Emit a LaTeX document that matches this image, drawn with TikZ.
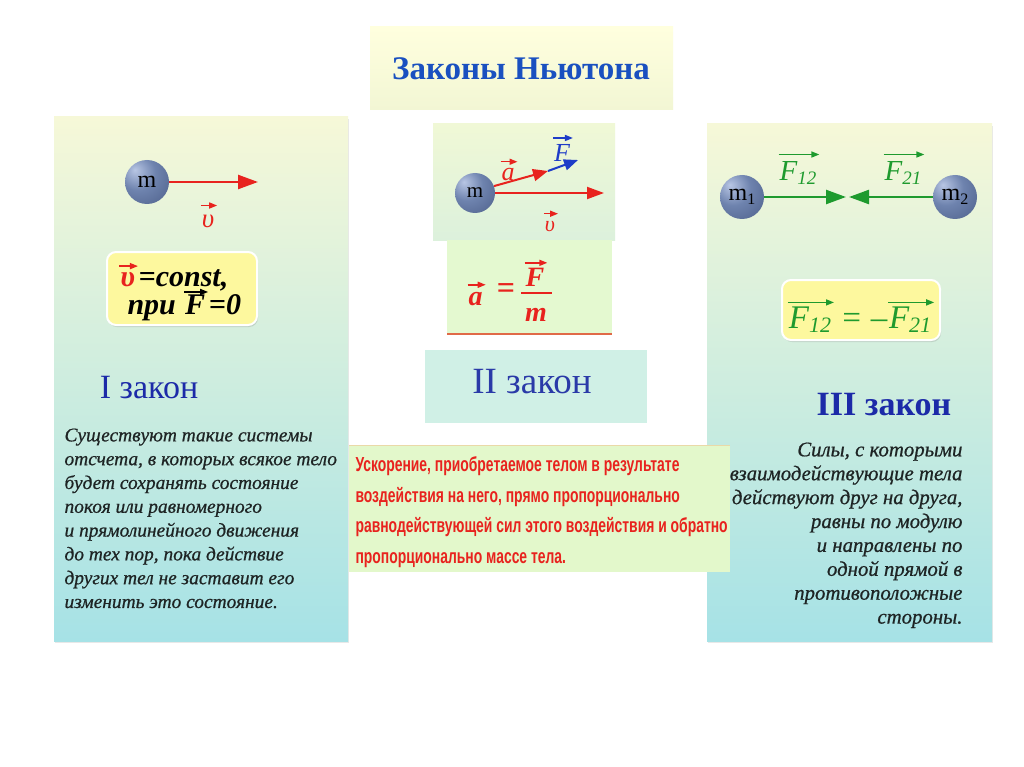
\documentclass[tikz,border=0pt]{standalone}
\usepackage{amsmath}
\usepackage{fontspec}
\setmainfont{Liberation Serif}
\newfontfamily\condsans[FakeStretch=0.685]{Liberation Sans}
\newfontfamily\descfont[FakeBold=0.7]{Liberation Serif}
\usetikzlibrary{arrows.meta,shadows}
\definecolor{titleblue}{HTML}{1A50C0}
\definecolor{lawblue}{HTML}{1C2AA8}
\definecolor{lawblueB}{HTML}{2A3AA8}
\definecolor{descgray}{HTML}{1E2424}
\definecolor{vred}{HTML}{E8231E}
\definecolor{fblue}{HTML}{1E3CC8}
\definecolor{fgreen}{HTML}{1E9A2E}
\definecolor{panelTop}{HTML}{F6F8D8}
\definecolor{panelBot}{HTML}{A6E2E6}
\definecolor{titleTop}{HTML}{FFFFDE}
\definecolor{titleBot}{HTML}{F2F6D4}
\definecolor{midTop}{HTML}{F0F8D6}
\definecolor{midBot}{HTML}{DCF1DC}
\definecolor{formline}{HTML}{E06A48}
\definecolor{redboxline}{HTML}{EAD9A8}
\definecolor{boxyellow}{HTML}{FDF89E}
\definecolor{formgreen}{HTML}{E4F9D0}
\definecolor{lawtwo}{HTML}{D0F0E6}
\definecolor{redbox}{HTML}{E3F8CB}
\definecolor{ballhi}{HTML}{B8C6E4}
\definecolor{ballmid}{HTML}{6E83AE}
\definecolor{balldark}{HTML}{4A5C86}
\definecolor{ballrim}{HTML}{2E3B5E}
\pgfdeclareradialshading{nball}{\pgfpoint{-14bp}{14bp}}{color(0bp)=(ballhi); color(20bp)=(ballmid); color(48bp)=(balldark); color(66bp)=(ballrim); color(80bp)=(ballrim)}
% vector arrow over a text: [gap]{text}
\newcommand\vecov[2][6pt]{\tikz[baseline=(vt.base)]{\node[inner sep=0pt,outer sep=0pt](vt){#2};\draw[line width=1.5pt,-{Triangle[length=8pt,width=6pt]}] ([yshift=#1,xshift=-1pt]vt.north west) -- ([yshift=#1,xshift=3pt]vt.north east);}}
\newcommand\subs[1]{\raisebox{-0.3ex}{\fontsize{19}{19}\selectfont #1}}
\newcommand\subsb[1]{\raisebox{-0.3ex}{\fontsize{22}{22}\selectfont #1}}
\tikzset{
  panel/.style={top color=panelTop,bottom color=panelBot,draw=none,
    drop shadow={opacity=0.18,shadow xshift=1pt,shadow yshift=-2pt}},
  ball/.style={circle,shading=nball,minimum size=44pt,inner sep=0pt,
    font=\fontsize{24}{24}\selectfont},
  redarr/.style={draw=vred,line width=2.4pt,-{Triangle[length=20pt,width=14pt]}},
  bluearr/.style={draw=fblue,line width=2.4pt,-{Triangle[length=14pt,width=11pt]}},
  greenarr/.style={draw=fgreen,line width=2.4pt,-{Triangle[length=20pt,width=14pt]}},
  lawtitle/.style={text=lawblue,font=\fontsize{34}{34}\selectfont},
  desc/.style={text=descgray,font=\descfont\fontsize{19.4}{23.8}\selectfont\itshape},
  yellowbox/.style={fill=boxyellow,rounded corners=9pt,draw=white,line width=2pt,
    drop shadow={opacity=0.25,shadow xshift=1pt,shadow yshift=-2pt}},
  lbl/.style={font=\fontsize{29}{29}\selectfont\itshape}
}
\begin{document}
\begin{tikzpicture}[x=1pt,y=-1pt]
\fill[white] (0,0) rectangle (1024,767);
\useasboundingbox (0,0) rectangle (1024,767);

% ---------- title ----------
\fill[top color=titleTop,bottom color=titleBot] (370,27) rectangle (673,110);
\node[text=titleblue,font=\fontsize{33}{33}\selectfont\bfseries] (title) at (521,69) {Законы Ньютона};

% ---------- left panel ----------
\path[panel] (54,117) rectangle (348,641);
\node[ball] (mA) at (147,182) {m};
\coordinate (vA) at (258,182);
\draw[redarr] (mA.east) -- (vA);
\node[text=vred,font=\fontsize{27}{27}\selectfont\itshape] (lvA) at (209,215) {\vecov[9pt]{υ}};
\path[yellowbox] (107,252) rectangle (257,325);
\node[anchor=west,font=\fontsize{30}{30}\selectfont\bfseries\itshape] (c1) at (115,277) {\textcolor{vred}{\vecov[6pt]{υ}}=const,};
\node[anchor=west,font=\fontsize{30}{30}\selectfont\bfseries\itshape] (c2) at (124,305) {при \vecov[3pt]{F}=0};
\node[lawtitle] (law1) at (149,388) {I закон};
\node[desc,anchor=north west,align=left] (d1) at (61,425) {Существуют такие системы\\
отсчета, в которых всякое тело\\
будет сохранять состояние\\
покоя или равномерного\\
и прямолинейного движения\\
до тех пор, пока действие\\
других тел не заставит его\\
изменить это состояние.};

% ---------- right panel ----------
\path[panel] (707,124) rectangle (992,641);
\node[ball] (m1) at (742,197) {m\raisebox{-0.4ex}{\fontsize{16}{16}\selectfont 1}};
\node[ball] (m2) at (955,197) {m\raisebox{-0.4ex}{\fontsize{16}{16}\selectfont 2}};
\coordinate (p12) at (846,197);
\coordinate (p21) at (849,197);
\draw[greenarr] (m1.east) -- (p12);
\draw[greenarr] (m2.west) -- (p21);
\node[text=fgreen,lbl] (l12) at (799,168) {\vecov[7pt]{F\subs{12}}};
\node[text=fgreen,lbl] (l21) at (904,168) {\vecov[7pt]{F\subs{21}}};
\path[yellowbox] (782,280) rectangle (940,340);
\node[text=fgreen,font=\fontsize{33}{33}\selectfont\itshape] (eq) at (861,316) {\vecov[4pt]{F\subsb{12}}\,= \textendash\vecov[4pt]{F\subsb{21}}};
\node[lawtitle,font=\fontsize{34}{34}\selectfont\bfseries] (law3) at (884,405) {III закон};
\node[desc,font=\descfont\fontsize{20.8}{23.9}\selectfont\itshape,anchor=north east,align=right] (d3) at (966,439) {Силы, с которыми\\
взаимодействующие тела\\
действуют друг на друга,\\
равны по модулю\\
и направлены по\\
одной прямой в\\
противоположные\\
стороны.};

% ---------- middle ----------
\fill[top color=midTop,bottom color=midBot] (433,124) rectangle (615,240);
\node[ball,minimum size=40pt,font=\fontsize{21}{21}\selectfont] (mB) at (475,193) {m};
\coordinate (vB) at (604,193);
\coordinate (aB) at (548,171);
\coordinate (fB) at (578,160);
\draw[redarr,line width=2pt,-{Triangle[length=17pt,width=12pt]}] (mB.east) -- (vB);
\draw[bluearr,line width=2pt] (aB) -- (fB);
\draw[redarr,line width=2pt,-{Triangle[length=15pt,width=12pt]}] (mB.20) -- (aB);
\node[text=vred,font=\fontsize{26}{26}\selectfont\itshape] (la) at (509,170) {\vecov[7pt]{a}};
\node[text=fblue,font=\fontsize{26}{26}\selectfont\itshape] (lF) at (563,148) {\vecov[6pt]{F}};
\node[text=vred,font=\fontsize{22}{22}\selectfont\itshape] (lv) at (551,221) {\vecov[7pt]{υ}};

\fill[formgreen] (447,240) rectangle (612,334);
\draw[draw=formline,line width=1.6pt] (447,334) -- (612,334);
\node[text=vred,font=\fontsize{28}{28}\selectfont\bfseries\itshape,anchor=east] (fa) at (490,294) {\vecov[8pt]{a}};
\node[text=vred,font=\fontsize{32}{32}\selectfont\bfseries] (feq) at (506,291) {=};
\node[text=vred,font=\fontsize{28}{28}\selectfont\bfseries\itshape] (fF) at (536,273) {\vecov[5pt]{F}};
\draw[vred,line width=1.8pt] (521,293) -- (552,293);
\node[text=vred,font=\fontsize{28}{28}\selectfont\bfseries\itshape] (fm) at (536,315) {m};

\fill[lawtwo] (425,350) rectangle (647,423);
\node[text=lawblueB,font=\fontsize{37}{37}\selectfont] (law2) at (532,382) {II закон};

% ---------- red box (on top of the right panel) ----------
\fill[redbox] (349,445) rectangle (730,572);
\draw[draw=redboxline,line width=0.6pt] (349,445) -- (730,445);
\node[anchor=north west,align=left,text=vred,font=\condsans\fontsize{20.3}{30.6}\selectfont\bfseries] (red) at (352,453)
 {Ускорение, приобретаемое телом в результате\\
 воздействия на него, прямо пропорционально\\
 равнодействующей сил этого воздействия и обратно\\
 пропорционально массе тела.};
\end{tikzpicture}
\end{document}
